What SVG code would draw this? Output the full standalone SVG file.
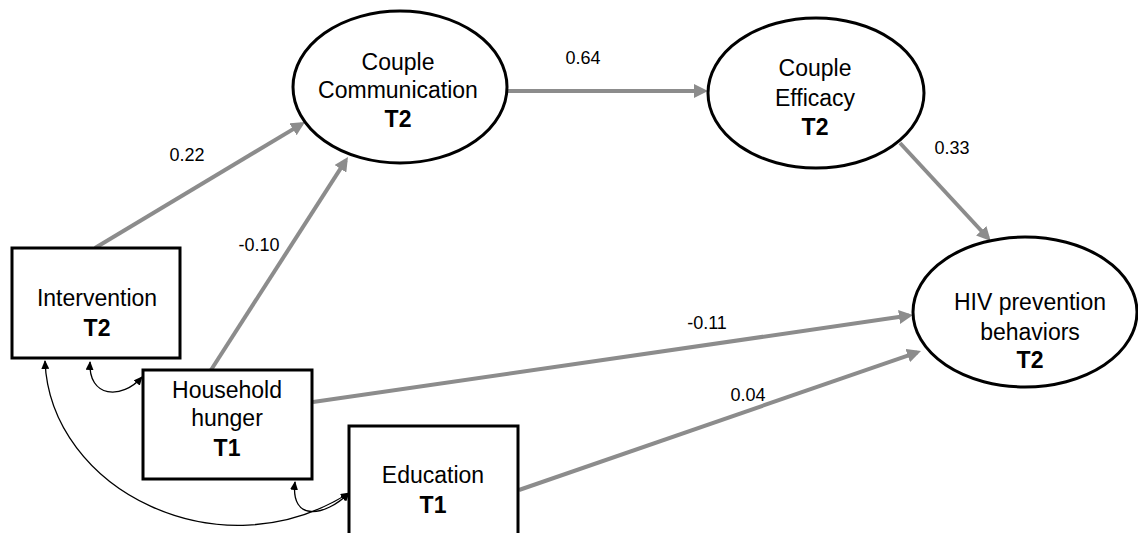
<svg xmlns="http://www.w3.org/2000/svg" width="1138" height="533" viewBox="0 0 1138 533">
<style>
.n{fill:#fff;stroke:#000;stroke-width:3}
.t{font-family:"Liberation Sans",Arial,sans-serif;font-size:23px;text-anchor:middle;fill:#000}
.b{font-weight:bold}
.p{stroke:#8c8c8c;stroke-width:4;fill:none;marker-end:url(#ga)}
.c{stroke:#000;stroke-width:1.3;fill:none;marker-start:url(#ba);marker-end:url(#ba)}
.l{font-family:"Liberation Sans",Arial,sans-serif;font-size:18px;text-anchor:middle;fill:#000}
</style>
<defs>
<marker id="ga" markerUnits="userSpaceOnUse" markerWidth="14" markerHeight="14" refX="10" refY="7" orient="auto"><path d="M0,0 L14,7 L0,14 z" fill="#8c8c8c"/></marker>
<marker id="ba" markerUnits="userSpaceOnUse" markerWidth="9" markerHeight="8" refX="8" refY="4" orient="auto-start-reverse"><path d="M0,0 L9,4 L0,8 z" fill="#000"/></marker>
</defs>
<g id="connectors">
<line class="p" x1="95" y1="248" x2="301.6" y2="124.1"/>
<line class="p" x1="211" y1="370" x2="345.8" y2="160.4"/>
<line class="p" x1="508" y1="91" x2="704" y2="91"/>
<line class="p" x1="900" y1="143" x2="988" y2="238"/>
<line class="p" x1="313" y1="402" x2="909" y2="315.6"/>
<line class="p" x1="519" y1="490" x2="917.2" y2="352.3"/>
<path class="c" d="M90,362 C88,398 122,400 142,377"/>
<path class="c" d="M295,482 C290,522 325,517 349,493"/>
<path class="c" d="M45,361 C50,490 220,575 349,493"/>
<text class="l" x="187" y="161">0.22</text>
<text class="l" x="259" y="251">-0.10</text>
<text class="l" x="583" y="64">0.64</text>
<text class="l" x="952" y="154">0.33</text>
<text class="l" x="707" y="329">-0.11</text>
<text class="l" x="748" y="401">0.04</text>
</g>
<g id="couple-communication">
<ellipse class="n" cx="400" cy="87" rx="107" ry="76"/>
<text class="t" x="398" y="70">Couple</text>
<text class="t" x="398" y="98">Communication</text>
<text class="t b" x="398" y="127">T2</text>
</g>
<g id="couple-efficacy">
<ellipse class="n" cx="816" cy="93" rx="108" ry="75"/>
<text class="t" x="815" y="76">Couple</text>
<text class="t" x="815" y="106">Efficacy</text>
<text class="t b" x="815" y="135">T2</text>
</g>
<g id="hiv-prevention">
<ellipse class="n" cx="1025" cy="312" rx="112" ry="75"/>
<text class="t" x="1030" y="310">HIV prevention</text>
<text class="t" x="1030" y="340">behaviors</text>
<text class="t b" x="1030" y="368">T2</text>
</g>
<g id="intervention">
<rect class="n" x="12" y="248" width="168" height="110"/>
<text class="t" x="97" y="306">Intervention</text>
<text class="t b" x="97" y="336">T2</text>
</g>
<g id="household-hunger">
<rect class="n" x="143" y="370" width="169" height="109"/>
<text class="t" x="227" y="398">Household</text>
<text class="t" x="227" y="426">hunger</text>
<text class="t b" x="227" y="456">T1</text>
</g>
<g id="education">
<rect class="n" x="349" y="426" width="169" height="120"/>
<text class="t" x="433" y="483">Education</text>
<text class="t b" x="433" y="513">T1</text>
</g>
</svg>
